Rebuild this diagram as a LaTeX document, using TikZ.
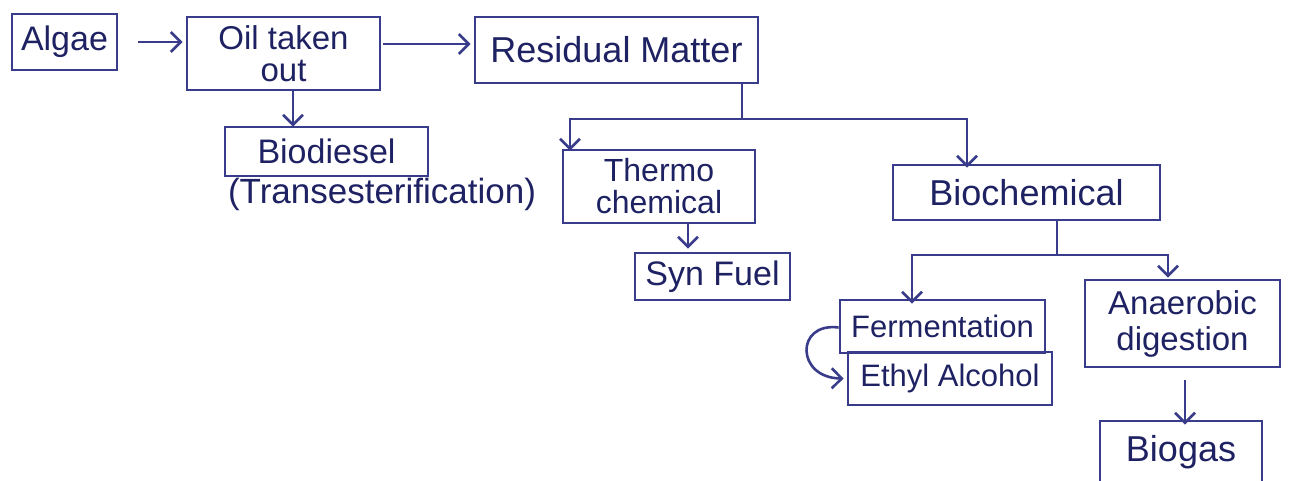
\documentclass[tikz,border=0pt]{standalone}
\usepackage{fontspec}
\setmainfont{Liberation Sans}
\usetikzlibrary{arrows.meta,calc}
\definecolor{ink}{HTML}{383C8A}
\definecolor{inktext}{HTML}{1F2262}
\tikzset{
  stagebox/.style={draw=ink, line width=2.8pt, inner sep=0pt, text=inktext,
    align=center, font=\fontsize{32}{30}\selectfont},
  link/.style={draw=ink, line width=2.6pt},
  flow/.style={link, -{Straight Barb[length=10pt,width=20pt,line width=2.6pt]}, shorten >=3pt},
}
\begin{document}
\begin{tikzpicture}[x=1pt,y=-1pt]
\useasboundingbox[fill=white] (0,0) rectangle (1292,481);

% first row
\node[stagebox, minimum width=105pt, minimum height=56pt, font=\fontsize{34}{30}\selectfont] (algae) at (64.5,42) {Algae};
\node[stagebox, minimum width=193pt, minimum height=73pt, font=\fontsize{33}{32}\selectfont] (oil) at (283.5,53.5) {Oil taken\\out};
\node[stagebox, minimum width=283pt, minimum height=66pt, font=\fontsize{36}{30}\selectfont] (resid) at (616.5,50) {Residual Matter};

% products and routes
\node[stagebox, minimum width=203pt, minimum height=49pt, font=\fontsize{34}{30}\selectfont] (biod) at (326.5,151.5) {Biodiesel};
\node[text=inktext, font=\fontsize{35}{30}\selectfont] (trans) at (382,194) {(Transesterification)};
\node[stagebox, minimum width=192pt, minimum height=73pt, font=\fontsize{32}{32}\selectfont] (thermo) at (659,186.5) {Thermo\\chemical};
\node[stagebox, minimum width=267pt, minimum height=55pt, font=\fontsize{36}{30}\selectfont] (bioch) at (1026.5,192.5) {Biochemical};
\node[stagebox, minimum width=155pt, minimum height=47pt, font=\fontsize{34}{30}\selectfont] (syn) at (712.5,276.5) {Syn Fuel};
\node[stagebox, minimum width=205pt, minimum height=53pt, font=\fontsize{31}{30}\selectfont] (ferm) at (942.5,326.5) {Fermentation};
\node[stagebox, minimum width=204pt, minimum height=53pt, font=\fontsize{31}{30}\selectfont] (ethyl) at (950,378.5) {Ethyl Alcohol};
\node[stagebox, minimum width=195pt, minimum height=87pt, font=\fontsize{33}{36}\selectfont] (anaer) at (1182.5,323.5) {Anaerobic\\digestion};
\node[stagebox, minimum width=162pt, minimum height=62pt, font=\fontsize{36}{30}\selectfont] (biogas) at (1181,452) {Biogas};

% branching points
\coordinate (r1) at (742,119);
\coordinate (rt) at (570,119);
\coordinate (rb) at (967,119);
\coordinate (b1) at (1057,255);
\coordinate (bl) at (912,255);
\coordinate (br) at (1168,255);

% connectors
\draw[flow] ([xshift=20pt]algae.east) -- (oil.west |- algae.east);
\draw[flow] ([xshift=2pt]oil.east |- 0,44) -- (resid.west |- 0,44);
\draw[flow] (oil.south -| 293,0) -- ([yshift=-4pt]biod.north -| 293,0);

\draw[link] (resid.south -| r1) -- (r1);
\draw[flow] (r1) -- (rt) -- ([yshift=-5pt]thermo.north -| rt);
\draw[flow] (r1) -- (rb) -- ([yshift=-7pt]bioch.north -| rb);

\draw[flow] (thermo.south -| 688,0) -- (syn.north -| 688,0);

\draw[link] (bioch.south -| b1) -- (b1);
\draw[flow] (b1) -- (bl) -- ([yshift=-8pt]ferm.north -| bl);
\draw[flow] (b1) -- (br) -- ([yshift=-2pt]anaer.north -| br);

\draw[flow] ([yshift=-1pt]ferm.west) .. controls (795,322) and (796,378) .. (ethyl.west);

\draw[flow] ([yshift=-12pt]anaer.south -| 1185,0) -- ([yshift=-8pt]biogas.north -| 1185,0);
\end{tikzpicture}
\end{document}
